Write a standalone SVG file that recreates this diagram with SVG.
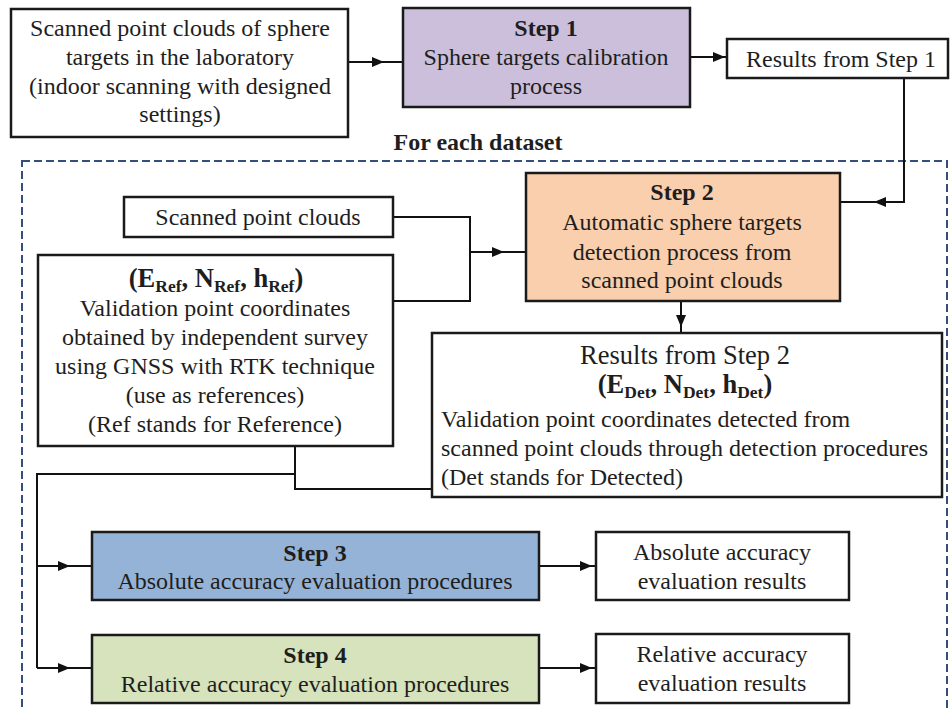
<svg xmlns="http://www.w3.org/2000/svg" width="950" height="711" viewBox="0 0 950 711">
<defs>
<marker id="ah" viewBox="0 0 12 10" refX="6" refY="5" markerWidth="12" markerHeight="10" markerUnits="userSpaceOnUse" orient="auto"><path d="M0,0 L12,5 L0,10 z" fill="#111"/></marker>
<style>
.box{stroke:#1a1a1a;stroke-width:2.5;fill:#fff}
.t{font-family:"Liberation Serif","Times New Roman",serif;font-size:24px;fill:#1e1e1e;text-anchor:middle}
.l{text-anchor:start}
.b{font-weight:bold}
.big{font-size:26.5px}
.c{fill:none;stroke:#111;stroke-width:2}
.a{marker-mid:url(#ah)}
.s{font-size:17.5px}
</style>
</defs>
<rect width="950" height="711" fill="#fff"/>
<rect x="22" y="161" width="925" height="560" fill="none" stroke="#34507a" stroke-width="2" stroke-dasharray="8,4"/>
<text class="t b" x="478" y="150">For each dataset</text>
<g id="connectors">
<path class="c a" d="M348,62 L378,62 L403,62"/>
<path class="c a" d="M690,57 L719,57 L727,57"/>
<path class="c" d="M904,78 L904,202 L840,202"/>
<path class="c a" d="M904,202 L880,202 L840,202"/>
<path class="c" d="M393,217 L470,217 L470,301 L393,301"/>
<path class="c a" d="M470,252 L498,252 L526,252"/>
<path class="c a" d="M681,301 L681,321 L681,333"/>
<path class="c" d="M295,446 L295,489 L432,489"/>
<path class="c" d="M295,474 L37,474 L37,668"/>
<path class="c a" d="M37,566 L64,566 L92,566"/>
<path class="c a" d="M37,668 L64,668 L92,668"/>
<path class="c a" d="M539,566 L586,566 L596,566"/>
<path class="c a" d="M539,668 L586,668 L596,668"/>
</g>
<g id="input">
<rect class="box" x="11" y="9" width="337" height="128"/>
<text class="t" x="180" y="36">Scanned point clouds of sphere</text>
<text class="t" x="180" y="65">targets in the laboratory</text>
<text class="t" x="180" y="94">(indoor scanning with designed</text>
<text class="t" x="180" y="122">settings)</text>
</g>
<g id="step1">
<rect class="box" x="403" y="8" width="287" height="99" style="fill:#cbbfdb"/>
<text class="t b" x="546" y="36">Step 1</text>
<text class="t" x="546" y="65">Sphere targets calibration</text>
<text class="t" x="546" y="94">process</text>
</g>
<g id="result1">
<rect class="box" x="727" y="39" width="221" height="39"/>
<text class="t" x="841" y="67">Results from Step 1</text>
</g>
<g id="scanned">
<rect class="box" x="124" y="197" width="269" height="40"/>
<text class="t" x="258" y="225">Scanned point clouds</text>
</g>
<g id="ref">
<rect class="box" x="38" y="255" width="355" height="191"/>
<text class="t b big" x="216" y="287">(E<tspan class="s" dy="5">Ref</tspan><tspan dy="-5">, N</tspan><tspan class="s" dy="5">Ref</tspan><tspan dy="-5">, h</tspan><tspan class="s" dy="5">Ref</tspan><tspan dy="-5">)</tspan></text>
<text class="t" x="215" y="316">Validation point coordinates</text>
<text class="t" x="215" y="345">obtained by independent survey</text>
<text class="t" x="215" y="374">using GNSS with RTK technique</text>
<text class="t" x="215" y="403">(use as references)</text>
<text class="t" x="215" y="432">(Ref stands for Reference)</text>
</g>
<g id="step2">
<rect class="box" x="526" y="173" width="314" height="128" style="fill:#f9cfad"/>
<text class="t b" x="682" y="200">Step 2</text>
<text class="t" x="682" y="230">Automatic sphere targets</text>
<text class="t" x="682" y="260">detection process from</text>
<text class="t" x="682" y="288">scanned point clouds</text>
</g>
<g id="result2">
<rect class="box" x="432" y="333" width="510" height="164"/>
<text class="t big" x="685" y="364">Results from Step 2</text>
<text class="t b big" x="685" y="393">(E<tspan class="s" dy="5">Det</tspan><tspan dy="-5">, N</tspan><tspan class="s" dy="5">Det</tspan><tspan dy="-5">, h</tspan><tspan class="s" dy="5">Det</tspan><tspan dy="-5">)</tspan></text>
<text class="t l" x="441" y="427">Validation point coordinates detected from</text>
<text class="t l" x="441" y="456">scanned point clouds through detection procedures</text>
<text class="t l" x="441" y="485">(Det stands for Detected)</text>
</g>
<g id="step3">
<rect class="box" x="92" y="532" width="447" height="68" style="fill:#95b3d7"/>
<text class="t b" x="315" y="561">Step 3</text>
<text class="t" x="315" y="589">Absolute accuracy evaluation procedures</text>
</g>
<g id="step4">
<rect class="box" x="92" y="635" width="447" height="68" style="fill:#d6e3bc"/>
<text class="t b" x="315" y="663">Step 4</text>
<text class="t" x="315" y="692">Relative accuracy evaluation procedures</text>
</g>
<g id="abs">
<rect class="box" x="596" y="532" width="253" height="68"/>
<text class="t" x="722" y="560">Absolute accuracy</text>
<text class="t" x="722" y="589">evaluation results</text>
</g>
<g id="rel">
<rect class="box" x="596" y="634" width="253" height="69"/>
<text class="t" x="722" y="662">Relative accuracy</text>
<text class="t" x="722" y="691">evaluation results</text>
</g>
</svg>
